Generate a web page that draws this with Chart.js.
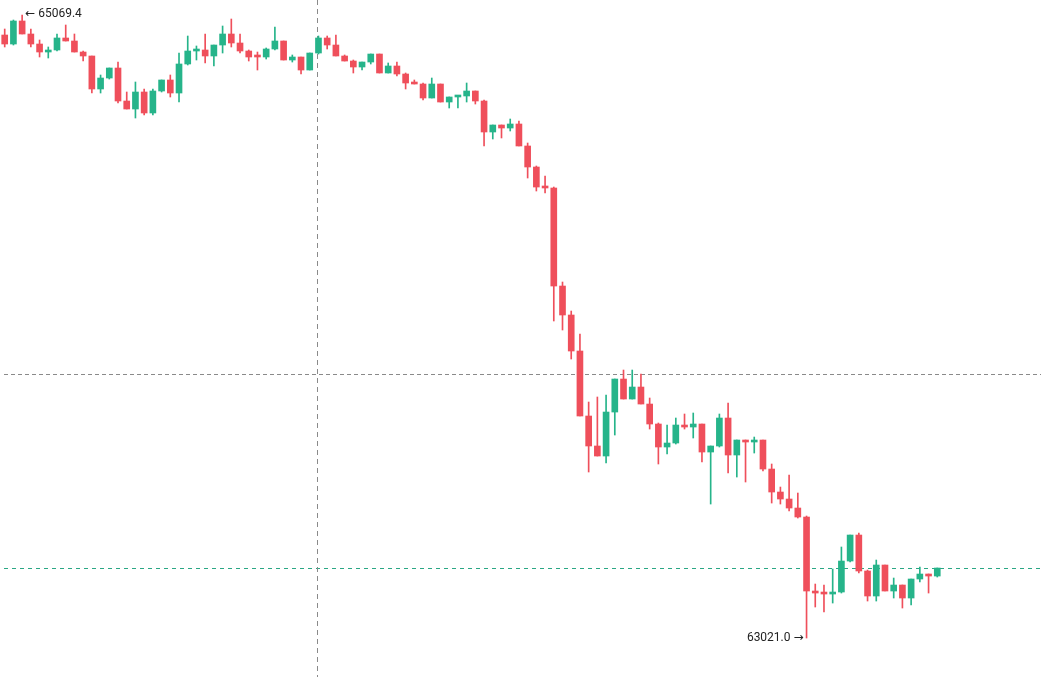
<!DOCTYPE html>
<html>
<head>
<meta charset="utf-8">
<script src="https://cdn.jsdelivr.net/npm/chart.js@4.4.1/dist/chart.umd.min.js"></script>
<style>
  html, body { margin: 0; padding: 0; background: #fff; }
  #wrap { width: 1045px; height: 677px; position: relative; }
</style>
</head>
<body>
<div id="wrap"><canvas id="myChart"></canvas></div>
<script>
// candle values
const openPrices = [
  65003.6, 64974.0, 65049.7, 65006.9, 64974.0, 64947.7, 64954.3, 64993.8, 64983.9, 64947.7,
  64934.6, 64826.1, 64862.2, 64895.1, 64786.6, 64760.3, 64816.2, 64747.2, 64819.5, 64855.7,
  64812.9, 64908.3, 64951.0, 64954.3, 64934.6, 64970.7, 65006.9, 64977.3, 64951.0, 64934.6,
  64931.3, 64957.6, 64983.9, 64921.4, 64931.3, 64888.5, 64944.4, 64993.8, 64970.7, 64934.6,
  64918.1, 64898.4, 64914.8, 64941.1, 64878.7, 64901.7, 64875.4, 64845.8, 64842.5, 64796.5,
  64842.5, 64783.3, 64799.8, 64803.1, 64819.5, 64786.6, 64684.7, 64707.7, 64697.8, 64711.0,
  64638.7, 64569.6, 64503.8, 64500.6, 64178.3, 64083.0, 63964.6, 63750.9, 63652.3, 63619.4,
  63764.0, 63872.5, 63806.8, 63846.2, 63790.3, 63724.6, 63649.0, 63662.1, 63721.3, 63714.7,
  63724.6, 63632.5, 63652.3, 63744.3, 63622.7, 63672.0, 63665.4, 63672.0, 63576.6, 63501.0,
  63478.0, 63448.4, 63418.8, 63175.5, 63168.9, 63165.6, 63172.2, 63274.1, 63359.6, 63241.3,
  63159.1, 63261.0, 63175.5, 63195.2, 63152.5, 63215.0, 63231.4, 63224.8
];
const highPrices = [
  65023.3, 65052.9, 65069.4, 65023.3, 64987.2, 64964.2, 65006.9, 65036.5, 65006.9, 64951.0,
  64934.6, 64872.1, 64895.1, 64914.8, 64816.2, 64849.1, 64826.1, 64826.1, 64855.7, 64872.1,
  64944.4, 65000.3, 64967.5, 65006.9, 64970.7, 65033.2, 65056.2, 65006.9, 64954.3, 64947.7,
  64960.9, 65029.9, 64983.9, 64937.9, 64931.3, 64944.4, 65000.3, 65000.3, 65003.6, 64937.9,
  64921.4, 64914.8, 64941.1, 64941.1, 64911.6, 64914.8, 64878.7, 64855.7, 64845.8, 64862.2,
  64842.5, 64799.8, 64803.1, 64845.8, 64819.5, 64789.9, 64707.7, 64707.7, 64727.4, 64720.9,
  64648.5, 64572.9, 64540.0, 64503.8, 64191.5, 64096.1, 64020.5, 63796.9, 63813.4, 63819.9,
  63872.5, 63902.1, 63902.1, 63889.0, 63810.1, 63727.9, 63721.3, 63744.3, 63757.5, 63760.8,
  63724.6, 63652.3, 63757.5, 63793.6, 63672.0, 63672.0, 63681.8, 63672.0, 63593.1, 63517.4,
  63556.9, 63497.7, 63422.1, 63198.5, 63195.2, 63247.8, 63320.2, 63359.6, 63366.2, 63244.5,
  63277.4, 63261.0, 63218.2, 63195.2, 63215.0, 63254.4, 63231.4, 63251.1
];
const lowPrices = [
  64964.2, 64970.7, 65006.9, 64964.2, 64931.3, 64928.0, 64951.0, 64983.9, 64947.7, 64918.1,
  64812.9, 64812.9, 64858.9, 64780.0, 64760.3, 64730.7, 64740.6, 64740.6, 64816.2, 64799.8,
  64783.3, 64905.0, 64921.4, 64911.6, 64901.7, 64944.4, 64964.2, 64944.4, 64918.1, 64888.5,
  64924.7, 64954.3, 64921.4, 64914.8, 64875.4, 64888.5, 64941.1, 64957.6, 64934.6, 64918.1,
  64878.7, 64888.5, 64908.3, 64878.7, 64878.7, 64868.8, 64826.1, 64842.5, 64789.9, 64796.5,
  64783.3, 64763.6, 64763.6, 64783.3, 64776.7, 64638.7, 64661.7, 64665.0, 64688.0, 64638.7,
  64533.4, 64490.7, 64484.1, 64063.3, 64033.7, 63938.3, 63750.9, 63566.8, 63619.4, 63596.4,
  63688.4, 63806.8, 63806.8, 63790.3, 63708.1, 63593.1, 63626.0, 63658.8, 63708.1, 63678.6,
  63599.6, 63461.5, 63649.0, 63563.5, 63550.3, 63533.9, 63629.2, 63570.1, 63464.8, 63461.5,
  63438.5, 63415.5, 63021.0, 63122.9, 63106.4, 63136.0, 63168.9, 63270.8, 63234.7, 63142.6,
  63142.6, 63175.5, 63152.5, 63119.6, 63129.5, 63205.1, 63168.9, 63221.5
];
const closePrices = [
  64974.0, 65049.7, 65006.9, 64974.0, 64947.7, 64954.3, 64993.8, 64983.9, 64947.7, 64934.6,
  64826.1, 64862.2, 64895.1, 64786.6, 64760.3, 64816.2, 64747.2, 64819.5, 64855.7, 64812.9,
  64908.3, 64951.0, 64954.3, 64934.6, 64970.7, 65006.9, 64977.3, 64951.0, 64931.3, 64931.3,
  64957.6, 64983.9, 64921.4, 64931.3, 64888.5, 64944.4, 64993.8, 64970.7, 64934.6, 64918.1,
  64898.4, 64914.8, 64941.1, 64878.7, 64901.7, 64875.4, 64845.8, 64842.5, 64796.5, 64842.5,
  64783.3, 64799.8, 64803.1, 64819.5, 64786.6, 64684.7, 64707.7, 64697.8, 64711.0, 64638.7,
  64569.6, 64503.8, 64500.6, 64178.3, 64083.0, 63964.6, 63750.9, 63652.3, 63619.4, 63764.0,
  63872.5, 63806.8, 63846.2, 63790.3, 63724.6, 63649.0, 63662.1, 63721.3, 63714.7, 63724.6,
  63632.5, 63652.3, 63744.3, 63622.7, 63672.0, 63665.4, 63672.0, 63576.6, 63501.0, 63478.0,
  63448.4, 63418.8, 63175.5, 63168.9, 63165.6, 63172.2, 63274.1, 63359.6, 63241.3, 63159.1,
  63261.0, 63175.5, 63195.2, 63152.5, 63215.0, 63231.4, 63224.8, 63251.1
];

// crosshair sits on this candle / price
const crosshairIndex = 36;
const crosshairPrice = 63889.0;

const upColor = '#26b48a';
const downColor = '#ef4f5b';

const candleColor = (i) => closePrices[i] >= openPrices[i] ? upColor : downColor;

const bodies = openPrices.map((o, i) => ({ x: i, y: [o, closePrices[i]] }));
const wicks = lowPrices.map((l, i) => ({ x: i, y: [l, highPrices[i]] }));

const hiIdx = highPrices.indexOf(Math.max(...highPrices));
const loIdx = lowPrices.indexOf(Math.min(...lowPrices));
const lastClose = closePrices[closePrices.length - 1];

const overlay = {
    id: 'overlay',
    beforeDatasetsDraw(chart) {
        const { ctx, scales: { x, y }, width } = chart;
        ctx.save();
        ctx.lineWidth = 1;

        // last price line
        ctx.strokeStyle = '#2aa784';
        ctx.setLineDash([4, 4]);
        let py = Math.round(y.getPixelForValue(lastClose)) + 0.5;
        ctx.beginPath();
        ctx.moveTo(4, py);
        ctx.lineTo(width - 4, py);
        ctx.stroke();

        // crosshair
        ctx.strokeStyle = '#8a8a8a';
        ctx.setLineDash([4, 3]);
        py = Math.round(y.getPixelForValue(crosshairPrice)) + 0.5;
        ctx.beginPath();
        ctx.moveTo(4, py);
        ctx.lineTo(width - 4, py);
        ctx.stroke();

        ctx.setLineDash([5, 4]);
        const px = Math.floor(x.getPixelForValue(crosshairIndex)) - 0.5;
        ctx.beginPath();
        ctx.moveTo(px, 0);
        ctx.lineTo(px, chart.height);
        ctx.stroke();
        ctx.restore();
    },
    afterDatasetsDraw(chart) {
        const { ctx, scales: { x, y } } = chart;
        ctx.save();
        ctx.font = '12px Roboto, "DejaVu Sans", sans-serif';
        ctx.fillStyle = '#222';
        ctx.textBaseline = 'middle';

        ctx.textAlign = 'left';
        ctx.fillText('\u2190 ' + highPrices[hiIdx].toFixed(1),
            x.getPixelForValue(hiIdx) + 3, y.getPixelForValue(highPrices[hiIdx]) - 1);

        ctx.textAlign = 'right';
        ctx.fillText(lowPrices[loIdx].toFixed(1) + ' \u2192',
            x.getPixelForValue(loIdx) - 3, y.getPixelForValue(lowPrices[loIdx]));
        ctx.restore();
    }
};

const ctx = document.getElementById('myChart');

new Chart(ctx, {
    type: 'bar',
    data: {
        datasets: [{
            label: 'body',
            data: bodies,
            backgroundColor: (c) => candleColor(c.dataIndex),
            barThickness: 6,
            minBarLength: 2,
            grouped: false,
            order: 1
        }, {
            label: 'wick',
            data: wicks,
            backgroundColor: (c) => candleColor(c.dataIndex),
            barThickness: 1,
            minBarLength: 1,
            grouped: false,
            order: 2
        }]
    },
    options: {
        responsive: true,
        maintainAspectRatio: false,
        animation: false,
        layout: { padding: 0 },
        plugins: {
            legend: { display: false },
            tooltip: { enabled: false }
        },
        scales: {
            x: {
                type: 'linear',
                offset: false,
                min: -0.54,
                max: 119.36,
                display: false
            },
            y: {
                min: 62892.8,
                max: 65118.7,
                display: false
            }
        }
    },
    plugins: [overlay]
});
</script>
</body>
</html>
